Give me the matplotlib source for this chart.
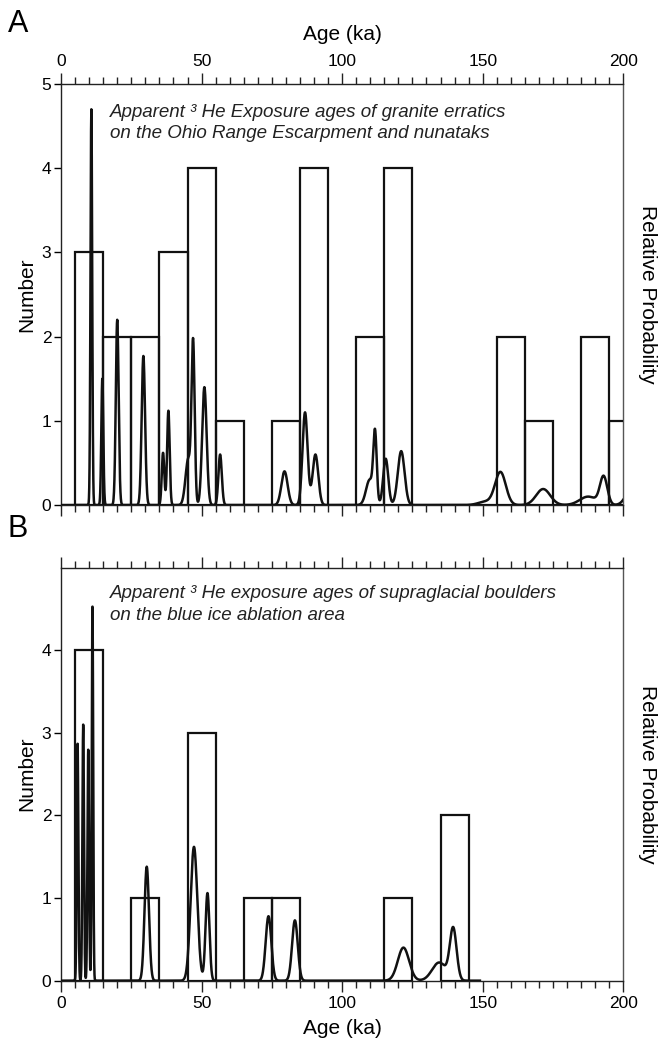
import numpy as np
import matplotlib
matplotlib.use("Agg")
import matplotlib.pyplot as plt
from matplotlib.ticker import MultipleLocator

plt.rcParams['font.family'] = ['Liberation Sans', 'DejaVu Sans']

# ---------------- data ----------------
# Panel A histogram (10 ka bins)
a_bin_left = [5, 15, 25, 35, 45, 55, 65, 75, 85, 95, 105, 115, 125, 135, 145, 155, 165, 175, 185, 195]
a_counts   = [3, 2, 2, 3, 4, 1, 0, 1, 4, 0, 2, 4, 0, 0, 0, 2, 1, 0, 2, 1]
# Panel A probability curve components: centre (ka), height, width (ka)
a_peak_centre = [10.8, 14.7, 20.0, 29.3, 36.3, 38.2, 45.3, 47.0, 51.0, 56.6, 79.5, 86.8, 90.5,
                 109.8, 111.7, 115.5, 121.0, 151.0, 156.3, 171.5, 187.5, 193.0, 203.0]
a_peak_height = [4.7, 1.5, 2.2, 1.77, 0.62, 1.12, 0.55, 1.85, 1.40, 0.6, 0.4, 1.1, 0.6,
                 0.3, 0.8, 0.55, 0.64, 0.04, 0.39, 0.19, 0.10, 0.33, 0.2]
a_peak_width  = [0.3, 0.35, 0.5, 0.6, 0.45, 0.45, 1.0, 0.55, 0.8, 0.6, 1.1, 0.9, 1.0,
                 1.3, 0.6, 0.9, 1.2, 2.5, 1.9, 2.5, 3.0, 1.3, 2.0]

# Panel B histogram
b_bin_left = [5, 25, 45, 65, 75, 115, 135]
b_counts   = [4, 1, 3, 1, 1, 1, 2]
b_peak_centre = [5.9, 7.9, 9.7, 11.2, 30.5, 47.3, 52.1, 73.8, 83.2, 121.8, 134.5, 139.5]
b_peak_height = [2.87, 3.1, 2.8, 4.55, 1.38, 1.62, 1.06, 0.78, 0.73, 0.4, 0.22, 0.62]
b_peak_width  = [0.28, 0.28, 0.28, 0.25, 0.8, 1.2, 0.7, 1.0, 1.0, 2.0, 2.5, 1.2]

a_note = ["Apparent \u00b3 He Exposure ages of granite erratics",
          "on the Ohio Range Escarpment and nunataks"]
b_note = ["Apparent \u00b3 He exposure ages of supraglacial boulders",
          "on the blue ice ablation area"]


def prob_curve(x, centres, heights, widths):
    y = np.zeros_like(x)
    for c, h, w in zip(centres, heights, widths):
        y += h * np.exp(-0.5 * ((x - c) / w) ** 2)
    return y


fig = plt.figure(figsize=(6.6, 10.53), dpi=100)
axA = fig.add_axes([0.0924, 0.5204, 0.8520, 0.3998])
axB = fig.add_axes([0.0924, 0.0687, 0.8520, 0.3922])


def style(ax, top_labels):
    ax.set_xlim(0, 200)
    ax.set_ylim(0, 5)
    ax.xaxis.set_major_locator(MultipleLocator(50))
    ax.xaxis.set_minor_locator(MultipleLocator(5))
    ax.tick_params(axis='x', which='both', direction='out', top=True, bottom=True,
                   labeltop=top_labels, labelbottom=not top_labels, labelsize=12.5, width=1,
                   color='#222222', pad=3)
    ax.tick_params(axis='x', which='major', length=8)
    ax.tick_params(axis='x', which='minor', length=5)
    ax.tick_params(axis='y', which='both', direction='out', left=True, right=False,
                   length=5, width=1, labelsize=12.5, pad=2)
    for s in ax.spines.values():
        s.set_linewidth(1.0)
        s.set_color('#222222')
    ax.spines['right'].set_color('#555555')
    ax.set_ylabel('Number', fontsize=15, labelpad=4)
    ax2 = ax.twinx()
    ax2.set_yticks([])
    ax2.set_ylabel('Relative Probability', fontsize=15, rotation=-90, labelpad=24)
    for s in ax2.spines.values():
        s.set_visible(False)


style(axA, True)
style(axB, False)
axA.set_yticks([0, 1, 2, 3, 4, 5])
axB.set_yticks([0, 1, 2, 3, 4])
axA.xaxis.set_label_position('top')
axA.set_xlabel('Age (ka)', fontsize=15, labelpad=10)
axB.set_xlabel('Age (ka)', fontsize=15, labelpad=6)

# histograms
axA.bar(a_bin_left, a_counts, width=10, align='edge', fill=False, edgecolor='#111111',
        linewidth=1.6, zorder=3)
axB.bar(b_bin_left, b_counts, width=10, align='edge', fill=False, edgecolor='#111111',
        linewidth=1.6, zorder=3)

# probability curves
xa = np.linspace(0, 200, 4001)
axA.plot(xa, prob_curve(xa, a_peak_centre, a_peak_height, a_peak_width),
         color='#111111', lw=1.8, zorder=4, clip_on=True)
xb = np.linspace(0, 149, 3001)
axB.plot(xb, prob_curve(xb, b_peak_centre, b_peak_height, b_peak_width),
         color='#111111', lw=1.8, zorder=4)

# annotations
for ax, note, ys in ((axA, a_note, (0.922, 0.872)), (axB, b_note, (0.927, 0.873))):
    for line, yy in zip(note, ys):
        ax.text(0.087, yy, line, transform=ax.transAxes, fontsize=13.5, style='italic',
                va='baseline', ha='left', color='#222222')

fig.text(0.012, 0.970, 'A', fontsize=22, va='baseline', ha='left')
fig.text(0.012, 0.490, 'B', fontsize=22, va='baseline', ha='left')

fig.savefig('out.png', dpi=100)
